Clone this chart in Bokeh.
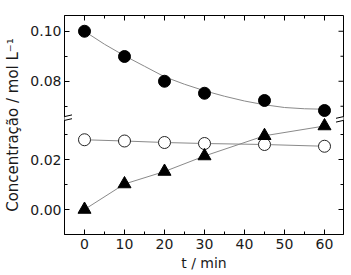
from bokeh.plotting import figure
from bokeh.models import Range1d, FixedTicker, CustomJSTickFormatter, Arrow
from bokeh.embed import file_html
from bokeh.resources import INLINE

# ---- data ----
t_min = [0, 10, 20, 30, 45, 60]
conc_filled = [0.1000, 0.0899, 0.0800, 0.0752, 0.0723, 0.0683]
conc_open = [0.0279, 0.0274, 0.0268, 0.0264, 0.0260, 0.0253]
conc_tri = [0.0000, 0.0102, 0.0152, 0.0214, 0.0295, 0.0334]

fit_t = [0, 5, 10, 15, 20, 25, 30, 35, 40, 45, 50, 55, 60]
fit_filled = [0.1000, 0.0948, 0.0902, 0.0860, 0.0818, 0.0788, 0.0762,
              0.0740, 0.0721, 0.0706, 0.0695, 0.0690, 0.0688]

x_ticks = [0, 10, 20, 30, 40, 50, 60]
x_minor = [5, 15, 25, 35, 45, 55]
y_ticks_low = [0.00, 0.02]
y_minor_low = [0.01, 0.03]
y_ticks_high = [0.08, 0.10]
y_minor_high = [0.07, 0.09]

x_label = "t / min"
y_label = "Concentração / mol L⁻¹"

# ---- broken-axis geometry ----
x_lo, x_hi = -5, 64.75
y_lo = -0.01          # bottom of lower panel
brk_lo = 0.0364       # top of lower panel
brk_hi = 0.0651       # bottom of upper panel
y_top = 0.1063        # top of upper panel
span = (brk_lo - y_lo) + (y_top - brk_hi)
off = y_top - (y_lo + span)
y_hi = y_lo + span

W, H = 351, 275
ML, MR, MT, MB = 64, 8, 15, 41
FW, FH = W - ML - MR, H - MT - MB
dxp = (x_hi - x_lo) / FW
dyp = span / FH

p = figure(width=W, height=H, output_backend="svg", toolbar_location=None,
           x_range=Range1d(x_lo, x_hi), y_range=Range1d(y_lo, y_hi),
           min_border_left=ML, min_border_right=MR, min_border_top=MT,
           min_border_bottom=MB, background_fill_color="white",
           border_fill_color="white")
p.extra_y_ranges = {"high": Range1d(y_top - span, y_top)}
p.grid.visible = False
p.outline_line_color = "black"
p.outline_line_width = 1

font = "DejaVu Sans"
txt_col = "#1a1a1a"

yt = list(y_ticks_low) + [v - off for v in y_ticks_high]
ym = list(y_minor_low) + [v - off for v in y_minor_high]
fmt = CustomJSTickFormatter(args=dict(brk=brk_lo, off=off),
                            code="return (tick > brk ? tick + off : tick).toFixed(2);")


def style(ax):
    ax.axis_line_color = "black"
    ax.major_tick_in = 5
    ax.major_tick_out = 0
    ax.minor_tick_in = 3
    ax.minor_tick_out = 0
    ax.major_tick_line_color = "black"
    ax.minor_tick_line_color = "black"
    ax.major_label_text_font = font
    ax.major_label_text_color = txt_col
    ax.major_label_text_font_size = "14px"
    ax.axis_label_text_font = font
    ax.axis_label_text_font_style = "normal"
    ax.axis_label_text_color = txt_col


xb = p.xaxis[0]
xb.ticker = FixedTicker(ticks=x_ticks, minor_ticks=x_minor)
style(xb)
xb.major_label_standoff = 4
xb.axis_label = x_label
xb.axis_label_text_font_size = "14px"
xb.axis_label_standoff = 3

yl = p.yaxis[0]
yl.ticker = FixedTicker(ticks=yt, minor_ticks=ym)
yl.formatter = fmt
style(yl)
yl.major_label_standoff = 3
yl.axis_label = y_label
yl.axis_label_text_font_size = "15px"
yl.axis_label_standoff = 5

# inward ticks on the top and right frame edges, from the same tick lists
p.segment(x0=x_ticks, y0=[y_hi] * len(x_ticks), x1=x_ticks,
          y1=[y_hi - 5 * dyp] * len(x_ticks), line_color="black", line_width=1)
p.segment(x0=x_minor, y0=[y_hi] * len(x_minor), x1=x_minor,
          y1=[y_hi - 3 * dyp] * len(x_minor), line_color="black", line_width=1)
p.segment(x0=[x_hi] * len(yt), y0=yt, x1=[x_hi - 5 * dxp] * len(yt), y1=yt,
          line_color="black", line_width=1)
p.segment(x0=[x_hi] * len(ym), y0=ym, x1=[x_hi - 3 * dxp] * len(ym), y1=ym,
          line_color="black", line_width=1)

line_col = "#8a8a8a"
p.line(fit_t, fit_filled, y_range_name="high", line_color=line_col, line_width=1)
p.line(t_min, conc_open, line_color=line_col, line_width=1)
p.line(t_min, conc_tri, line_color=line_col, line_width=1)

p.scatter(t_min, conc_filled, y_range_name="high", marker="circle", size=12,
          fill_color="black", line_color="black")
p.scatter(t_min, conc_open, marker="circle", size=12,
          fill_color="white", line_color="#222222", line_width=1)
p.scatter(t_min, conc_tri, marker="triangle", size=13,
          fill_color="black", line_color="black")

# break marks on both vertical frame edges
for xe in (x_lo, x_hi):
    p.add_layout(Arrow(end=None, x_start=xe - 7.5 * dxp, y_start=brk_lo - 1.7 * dyp,
                       x_end=xe + 7.5 * dxp, y_end=brk_lo + 1.7 * dyp,
                       line_color="white", line_width=3))
    for s in (-1.9, 1.9):
        yc = brk_lo + s * dyp
        p.add_layout(Arrow(end=None, x_start=xe - 7.5 * dxp, y_start=yc - 1.7 * dyp,
                           x_end=xe + 7.5 * dxp, y_end=yc + 1.7 * dyp,
                           line_color="black", line_width=1))

open("out.html", "w").write(file_html(p, INLINE))
